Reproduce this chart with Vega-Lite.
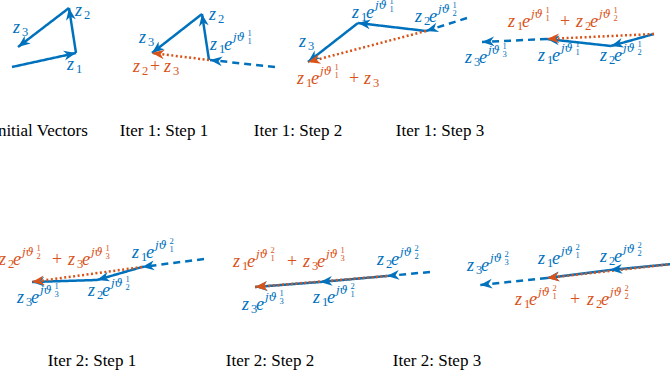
{
  "$schema": "https://vega.github.io/schema/vega-lite/v6.json",
  "autosize": {"type": "fit", "contains": "padding"},
  "width": 670,
  "height": 375,
  "padding": 0,
  "background": "white",
  "config": {"view": {"stroke": null}},
  "datasets": {
    "segs": [
      {"x": 12, "y": 67, "x2": 76, "y2": 53, "s": "solid", "k": "blue"},
      {"x": 76, "y": 53, "x2": 69, "y2": 8, "s": "solid", "k": "blue"},
      {"x": 69, "y": 8, "x2": 18, "y2": 47, "s": "solid", "k": "blue"},
      {"x": 275, "y": 67, "x2": 210, "y2": 60, "s": "dashed", "k": "blue"},
      {"x": 209, "y": 60, "x2": 202, "y2": 14, "s": "solid", "k": "blue"},
      {"x": 202, "y": 14, "x2": 152, "y2": 53, "s": "solid", "k": "blue"},
      {"x": 467, "y": 18, "x2": 426, "y2": 31, "s": "dashed", "k": "blue"},
      {"x": 426, "y": 31, "x2": 358, "y2": 23, "s": "solid", "k": "blue"},
      {"x": 358, "y": 23, "x2": 308, "y2": 62, "s": "solid", "k": "blue"},
      {"x": 654, "y": 34, "x2": 611, "y2": 46, "s": "solid", "k": "blue"},
      {"x": 611, "y": 46, "x2": 547, "y2": 39, "s": "solid", "k": "blue"},
      {"x": 547, "y": 39, "x2": 482, "y2": 42, "s": "dashed", "k": "blue"},
      {"x": 204, "y": 259, "x2": 142, "y2": 267, "s": "dashed", "k": "blue"},
      {"x": 142, "y": 267, "x2": 97, "y2": 280, "s": "solid", "k": "blue"},
      {"x": 97, "y": 280, "x2": 32, "y2": 282, "s": "solid", "k": "blue"},
      {"x": 430, "y": 272, "x2": 387, "y2": 276, "s": "dashed", "k": "blue"},
      {"x": 387, "y": 276, "x2": 320, "y2": 282, "s": "solid", "k": "blue"},
      {"x": 320, "y": 282, "x2": 255, "y2": 287, "s": "solid", "k": "blue"},
      {"x": 672, "y": 264, "x2": 610, "y2": 270, "s": "solid", "k": "blue"},
      {"x": 610, "y": 270, "x2": 547, "y2": 278, "s": "solid", "k": "blue"},
      {"x": 547, "y": 278, "x2": 480, "y2": 285, "s": "dashed", "k": "blue"},
      {"x": 209, "y": 60, "x2": 152, "y2": 53, "s": "dotted", "k": "orange"},
      {"x": 426, "y": 31, "x2": 308, "y2": 62, "s": "dotted", "k": "orange"},
      {"x": 654, "y": 34, "x2": 547, "y2": 39, "s": "dotted", "k": "orange"},
      {"x": 142, "y": 267, "x2": 32, "y2": 282, "s": "dotted", "k": "orange"},
      {"x": 387, "y": 276, "x2": 255, "y2": 287, "s": "dotted", "k": "orange"},
      {"x": 672, "y": 264, "x2": 547, "y2": 278, "s": "dotted", "k": "orange"}
    ],
    "tex": [
      {"x": 13, "y": 33, "t": "z", "r": "var", "k": "blue"},
      {"x": 22, "y": 36, "t": "3", "r": "idx", "k": "blue"},
      {"x": 75, "y": 16, "t": "z", "r": "var", "k": "blue"},
      {"x": 84, "y": 19, "t": "2", "r": "idx", "k": "blue"},
      {"x": 67, "y": 70, "t": "z", "r": "var", "k": "blue"},
      {"x": 76, "y": 73, "t": "1", "r": "idx", "k": "blue"},

      {"x": 139, "y": 43, "t": "z", "r": "var", "k": "blue"},
      {"x": 148, "y": 46, "t": "3", "r": "idx", "k": "blue"},
      {"x": 209, "y": 20, "t": "z", "r": "var", "k": "blue"},
      {"x": 218, "y": 23, "t": "2", "r": "idx", "k": "blue"},
      {"x": 210, "y": 50, "t": "z", "r": "var", "k": "blue"},
      {"x": 219, "y": 53, "t": "1", "r": "idx", "k": "blue"},
      {"x": 224, "y": 50, "t": "e", "r": "var", "k": "blue"},
      {"x": 233, "y": 41, "t": "jϑ", "r": "exp", "k": "blue"},
      {"x": 247.5, "y": 36, "t": "1", "r": "eidx", "k": "blue"},
      {"x": 247.5, "y": 44, "t": "1", "r": "eidx", "k": "blue"},
      {"x": 133, "y": 72, "t": "z", "r": "var", "k": "orange"},
      {"x": 142, "y": 75, "t": "2", "r": "idx", "k": "orange"},
      {"x": 150, "y": 72, "t": "+", "r": "op", "k": "orange"},
      {"x": 164, "y": 72, "t": "z", "r": "var", "k": "orange"},
      {"x": 173, "y": 75, "t": "3", "r": "idx", "k": "orange"},

      {"x": 352, "y": 18, "t": "z", "r": "var", "k": "blue"},
      {"x": 361, "y": 21, "t": "1", "r": "idx", "k": "blue"},
      {"x": 366, "y": 18, "t": "e", "r": "var", "k": "blue"},
      {"x": 375, "y": 9, "t": "jϑ", "r": "exp", "k": "blue"},
      {"x": 389.5, "y": 4, "t": "1", "r": "eidx", "k": "blue"},
      {"x": 389.5, "y": 12, "t": "1", "r": "eidx", "k": "blue"},
      {"x": 415, "y": 22, "t": "z", "r": "var", "k": "blue"},
      {"x": 424, "y": 25, "t": "2", "r": "idx", "k": "blue"},
      {"x": 429, "y": 22, "t": "e", "r": "var", "k": "blue"},
      {"x": 438, "y": 13, "t": "jϑ", "r": "exp", "k": "blue"},
      {"x": 452.5, "y": 8, "t": "1", "r": "eidx", "k": "blue"},
      {"x": 452.5, "y": 16, "t": "2", "r": "eidx", "k": "blue"},
      {"x": 299, "y": 47, "t": "z", "r": "var", "k": "blue"},
      {"x": 308, "y": 50, "t": "3", "r": "idx", "k": "blue"},
      {"x": 297, "y": 84, "t": "z", "r": "var", "k": "orange"},
      {"x": 306, "y": 87, "t": "1", "r": "idx", "k": "orange"},
      {"x": 311, "y": 84, "t": "e", "r": "var", "k": "orange"},
      {"x": 320, "y": 75, "t": "jϑ", "r": "exp", "k": "orange"},
      {"x": 334.5, "y": 70, "t": "1", "r": "eidx", "k": "orange"},
      {"x": 334.5, "y": 78, "t": "1", "r": "eidx", "k": "orange"},
      {"x": 349, "y": 84, "t": "+", "r": "op", "k": "orange"},
      {"x": 364, "y": 84, "t": "z", "r": "var", "k": "orange"},
      {"x": 373, "y": 87, "t": "3", "r": "idx", "k": "orange"},

      {"x": 508, "y": 27, "t": "z", "r": "var", "k": "orange"},
      {"x": 517, "y": 30, "t": "1", "r": "idx", "k": "orange"},
      {"x": 522, "y": 27, "t": "e", "r": "var", "k": "orange"},
      {"x": 531, "y": 18, "t": "jϑ", "r": "exp", "k": "orange"},
      {"x": 545.5, "y": 13, "t": "1", "r": "eidx", "k": "orange"},
      {"x": 545.5, "y": 21, "t": "1", "r": "eidx", "k": "orange"},
      {"x": 560, "y": 27, "t": "+", "r": "op", "k": "orange"},
      {"x": 576, "y": 27, "t": "z", "r": "var", "k": "orange"},
      {"x": 585, "y": 30, "t": "2", "r": "idx", "k": "orange"},
      {"x": 590, "y": 27, "t": "e", "r": "var", "k": "orange"},
      {"x": 599, "y": 18, "t": "jϑ", "r": "exp", "k": "orange"},
      {"x": 613.5, "y": 13, "t": "1", "r": "eidx", "k": "orange"},
      {"x": 613.5, "y": 21, "t": "2", "r": "eidx", "k": "orange"},
      {"x": 465, "y": 63, "t": "z", "r": "var", "k": "blue"},
      {"x": 474, "y": 66, "t": "3", "r": "idx", "k": "blue"},
      {"x": 479, "y": 63, "t": "e", "r": "var", "k": "blue"},
      {"x": 488, "y": 54, "t": "jϑ", "r": "exp", "k": "blue"},
      {"x": 502.5, "y": 49, "t": "1", "r": "eidx", "k": "blue"},
      {"x": 502.5, "y": 57, "t": "3", "r": "eidx", "k": "blue"},
      {"x": 538, "y": 61, "t": "z", "r": "var", "k": "blue"},
      {"x": 547, "y": 64, "t": "1", "r": "idx", "k": "blue"},
      {"x": 552, "y": 61, "t": "e", "r": "var", "k": "blue"},
      {"x": 561, "y": 52, "t": "jϑ", "r": "exp", "k": "blue"},
      {"x": 575.5, "y": 47, "t": "1", "r": "eidx", "k": "blue"},
      {"x": 575.5, "y": 55, "t": "1", "r": "eidx", "k": "blue"},
      {"x": 600, "y": 61, "t": "z", "r": "var", "k": "blue"},
      {"x": 609, "y": 64, "t": "2", "r": "idx", "k": "blue"},
      {"x": 614, "y": 61, "t": "e", "r": "var", "k": "blue"},
      {"x": 623, "y": 52, "t": "jϑ", "r": "exp", "k": "blue"},
      {"x": 637.5, "y": 47, "t": "1", "r": "eidx", "k": "blue"},
      {"x": 637.5, "y": 55, "t": "2", "r": "eidx", "k": "blue"},

      {"x": -1, "y": 265, "t": "z", "r": "var", "k": "orange"},
      {"x": 8, "y": 268, "t": "2", "r": "idx", "k": "orange"},
      {"x": 13, "y": 265, "t": "e", "r": "var", "k": "orange"},
      {"x": 22, "y": 256, "t": "jϑ", "r": "exp", "k": "orange"},
      {"x": 36.5, "y": 251, "t": "1", "r": "eidx", "k": "orange"},
      {"x": 36.5, "y": 259, "t": "2", "r": "eidx", "k": "orange"},
      {"x": 52, "y": 265, "t": "+", "r": "op", "k": "orange"},
      {"x": 68, "y": 265, "t": "z", "r": "var", "k": "orange"},
      {"x": 77, "y": 268, "t": "3", "r": "idx", "k": "orange"},
      {"x": 82, "y": 265, "t": "e", "r": "var", "k": "orange"},
      {"x": 91, "y": 256, "t": "jϑ", "r": "exp", "k": "orange"},
      {"x": 105.5, "y": 251, "t": "1", "r": "eidx", "k": "orange"},
      {"x": 105.5, "y": 259, "t": "3", "r": "eidx", "k": "orange"},
      {"x": 132, "y": 258, "t": "z", "r": "var", "k": "blue"},
      {"x": 141, "y": 261, "t": "1", "r": "idx", "k": "blue"},
      {"x": 146, "y": 258, "t": "e", "r": "var", "k": "blue"},
      {"x": 155, "y": 249, "t": "jϑ", "r": "exp", "k": "blue"},
      {"x": 169.5, "y": 244, "t": "2", "r": "eidx", "k": "blue"},
      {"x": 169.5, "y": 252, "t": "1", "r": "eidx", "k": "blue"},
      {"x": 88, "y": 296, "t": "z", "r": "var", "k": "blue"},
      {"x": 97, "y": 299, "t": "2", "r": "idx", "k": "blue"},
      {"x": 102, "y": 296, "t": "e", "r": "var", "k": "blue"},
      {"x": 111, "y": 287, "t": "jϑ", "r": "exp", "k": "blue"},
      {"x": 125.5, "y": 282, "t": "1", "r": "eidx", "k": "blue"},
      {"x": 125.5, "y": 290, "t": "2", "r": "eidx", "k": "blue"},
      {"x": 17, "y": 303, "t": "z", "r": "var", "k": "blue"},
      {"x": 26, "y": 306, "t": "3", "r": "idx", "k": "blue"},
      {"x": 31, "y": 303, "t": "e", "r": "var", "k": "blue"},
      {"x": 40, "y": 294, "t": "jϑ", "r": "exp", "k": "blue"},
      {"x": 54.5, "y": 289, "t": "1", "r": "eidx", "k": "blue"},
      {"x": 54.5, "y": 297, "t": "3", "r": "eidx", "k": "blue"},

      {"x": 233, "y": 267, "t": "z", "r": "var", "k": "orange"},
      {"x": 242, "y": 270, "t": "1", "r": "idx", "k": "orange"},
      {"x": 247, "y": 267, "t": "e", "r": "var", "k": "orange"},
      {"x": 256, "y": 258, "t": "jϑ", "r": "exp", "k": "orange"},
      {"x": 270.5, "y": 253, "t": "2", "r": "eidx", "k": "orange"},
      {"x": 270.5, "y": 261, "t": "1", "r": "eidx", "k": "orange"},
      {"x": 287, "y": 267, "t": "+", "r": "op", "k": "orange"},
      {"x": 303, "y": 267, "t": "z", "r": "var", "k": "orange"},
      {"x": 312, "y": 270, "t": "3", "r": "idx", "k": "orange"},
      {"x": 317, "y": 267, "t": "e", "r": "var", "k": "orange"},
      {"x": 326, "y": 258, "t": "jϑ", "r": "exp", "k": "orange"},
      {"x": 340.5, "y": 253, "t": "1", "r": "eidx", "k": "orange"},
      {"x": 340.5, "y": 261, "t": "3", "r": "eidx", "k": "orange"},
      {"x": 377, "y": 265, "t": "z", "r": "var", "k": "blue"},
      {"x": 386, "y": 268, "t": "2", "r": "idx", "k": "blue"},
      {"x": 391, "y": 265, "t": "e", "r": "var", "k": "blue"},
      {"x": 400, "y": 256, "t": "jϑ", "r": "exp", "k": "blue"},
      {"x": 414.5, "y": 251, "t": "2", "r": "eidx", "k": "blue"},
      {"x": 414.5, "y": 259, "t": "2", "r": "eidx", "k": "blue"},
      {"x": 313, "y": 303, "t": "z", "r": "var", "k": "blue"},
      {"x": 322, "y": 306, "t": "1", "r": "idx", "k": "blue"},
      {"x": 327, "y": 303, "t": "e", "r": "var", "k": "blue"},
      {"x": 336, "y": 294, "t": "jϑ", "r": "exp", "k": "blue"},
      {"x": 350.5, "y": 289, "t": "2", "r": "eidx", "k": "blue"},
      {"x": 350.5, "y": 297, "t": "1", "r": "eidx", "k": "blue"},
      {"x": 242, "y": 310, "t": "z", "r": "var", "k": "blue"},
      {"x": 251, "y": 313, "t": "3", "r": "idx", "k": "blue"},
      {"x": 256, "y": 310, "t": "e", "r": "var", "k": "blue"},
      {"x": 265, "y": 301, "t": "jϑ", "r": "exp", "k": "blue"},
      {"x": 279.5, "y": 296, "t": "1", "r": "eidx", "k": "blue"},
      {"x": 279.5, "y": 304, "t": "3", "r": "eidx", "k": "blue"},

      {"x": 467, "y": 271, "t": "z", "r": "var", "k": "blue"},
      {"x": 476, "y": 274, "t": "3", "r": "idx", "k": "blue"},
      {"x": 481, "y": 271, "t": "e", "r": "var", "k": "blue"},
      {"x": 490, "y": 262, "t": "jϑ", "r": "exp", "k": "blue"},
      {"x": 504.5, "y": 257, "t": "2", "r": "eidx", "k": "blue"},
      {"x": 504.5, "y": 265, "t": "3", "r": "eidx", "k": "blue"},
      {"x": 538, "y": 264, "t": "z", "r": "var", "k": "blue"},
      {"x": 547, "y": 267, "t": "1", "r": "idx", "k": "blue"},
      {"x": 552, "y": 264, "t": "e", "r": "var", "k": "blue"},
      {"x": 561, "y": 255, "t": "jϑ", "r": "exp", "k": "blue"},
      {"x": 575.5, "y": 250, "t": "2", "r": "eidx", "k": "blue"},
      {"x": 575.5, "y": 258, "t": "1", "r": "eidx", "k": "blue"},
      {"x": 600, "y": 262, "t": "z", "r": "var", "k": "blue"},
      {"x": 609, "y": 265, "t": "2", "r": "idx", "k": "blue"},
      {"x": 614, "y": 262, "t": "e", "r": "var", "k": "blue"},
      {"x": 623, "y": 253, "t": "jϑ", "r": "exp", "k": "blue"},
      {"x": 637.5, "y": 248, "t": "2", "r": "eidx", "k": "blue"},
      {"x": 637.5, "y": 256, "t": "2", "r": "eidx", "k": "blue"},
      {"x": 515, "y": 305, "t": "z", "r": "var", "k": "orange"},
      {"x": 524, "y": 308, "t": "1", "r": "idx", "k": "orange"},
      {"x": 529, "y": 305, "t": "e", "r": "var", "k": "orange"},
      {"x": 538, "y": 296, "t": "jϑ", "r": "exp", "k": "orange"},
      {"x": 552.5, "y": 291, "t": "2", "r": "eidx", "k": "orange"},
      {"x": 552.5, "y": 299, "t": "1", "r": "eidx", "k": "orange"},
      {"x": 570, "y": 305, "t": "+", "r": "op", "k": "orange"},
      {"x": 587, "y": 305, "t": "z", "r": "var", "k": "orange"},
      {"x": 596, "y": 308, "t": "2", "r": "idx", "k": "orange"},
      {"x": 601, "y": 305, "t": "e", "r": "var", "k": "orange"},
      {"x": 610, "y": 296, "t": "jϑ", "r": "exp", "k": "orange"},
      {"x": 624.5, "y": 291, "t": "2", "r": "eidx", "k": "orange"},
      {"x": 624.5, "y": 299, "t": "2", "r": "eidx", "k": "orange"},

      {"x": 40, "y": 136, "t": "Initial Vectors", "r": "title", "k": "black"},
      {"x": 164, "y": 136, "t": "Iter 1: Step 1", "r": "title", "k": "black"},
      {"x": 298, "y": 136, "t": "Iter 1: Step 2", "r": "title", "k": "black"},
      {"x": 440, "y": 136, "t": "Iter 1: Step 3", "r": "title", "k": "black"},
      {"x": 92, "y": 366, "t": "Iter 2: Step 1", "r": "title", "k": "black"},
      {"x": 270, "y": 366, "t": "Iter 2: Step 2", "r": "title", "k": "black"},
      {"x": 437, "y": 366, "t": "Iter 2: Step 3", "r": "title", "k": "black"}
    ]
  },
  "layer": [
    {
      "data": {"name": "segs"},
      "mark": {"type": "rule", "strokeWidth": 2.5, "strokeCap": "butt", "clip": true},
      "encoding": {
        "x": {"field": "x", "type": "quantitative", "scale": {"domain": [0, 670], "nice": false, "zero": false}, "axis": null},
        "y": {"field": "y", "type": "quantitative", "scale": {"domain": [0, 375], "nice": false, "zero": false, "reverse": true}, "axis": null},
        "x2": {"field": "x2"},
        "y2": {"field": "y2"},
        "color": {"field": "k", "type": "nominal", "scale": {"domain": ["blue", "orange", "black"], "range": ["#0072BD", "#D95319", "#000000"]}, "legend": null},
        "strokeDash": {"field": "s", "type": "nominal", "scale": {"domain": ["solid", "dashed", "dotted"], "range": [[1, 0], [7, 5], [2, 2.5]]}, "legend": null}
      }
    },
    {
      "data": {"name": "segs"},
      "transform": [
        {"calculate": "atan2(datum.y2 - datum.y, datum.x2 - datum.x) * 180 / PI + 360", "as": "ang"}
      ],
      "mark": {"type": "point", "shape": "M0,0L-2,-0.8L-1.4,0L-2,0.8Z", "filled": true, "opacity": 1, "size": 150, "clip": true},
      "encoding": {
        "x": {"field": "x2", "type": "quantitative"},
        "y": {"field": "y2", "type": "quantitative"},
        "angle": {"field": "ang", "type": "quantitative", "scale": null},
        "color": {"field": "k", "type": "nominal", "legend": null}
      }
    },
    {
      "data": {"name": "tex"},
      "transform": [{"filter": "datum.r === 'var'"}],
      "mark": {"type": "text", "align": "left", "baseline": "alphabetic", "font": "Liberation Serif", "fontStyle": "italic", "fontSize": 18, "clip": true},
      "encoding": {
        "x": {"field": "x", "type": "quantitative"},
        "y": {"field": "y", "type": "quantitative"},
        "text": {"field": "t"},
        "color": {"field": "k", "type": "nominal", "legend": null}
      }
    },
    {
      "data": {"name": "tex"},
      "transform": [{"filter": "datum.r === 'exp'"}],
      "mark": {"type": "text", "align": "left", "baseline": "alphabetic", "font": "DejaVu Serif", "fontStyle": "italic", "fontSize": 11.5, "clip": true},
      "encoding": {
        "x": {"field": "x", "type": "quantitative"},
        "y": {"field": "y", "type": "quantitative"},
        "text": {"field": "t"},
        "color": {"field": "k", "type": "nominal", "legend": null}
      }
    },
    {
      "data": {"name": "tex"},
      "transform": [{"filter": "datum.r === 'idx'"}],
      "mark": {"type": "text", "align": "left", "baseline": "alphabetic", "font": "Liberation Serif", "fontSize": 12.5, "clip": true},
      "encoding": {
        "x": {"field": "x", "type": "quantitative"},
        "y": {"field": "y", "type": "quantitative"},
        "text": {"field": "t"},
        "color": {"field": "k", "type": "nominal", "legend": null}
      }
    },
    {
      "data": {"name": "tex"},
      "transform": [{"filter": "datum.r === 'eidx'"}],
      "mark": {"type": "text", "align": "left", "baseline": "alphabetic", "font": "Liberation Serif", "fontSize": 8.5, "clip": true},
      "encoding": {
        "x": {"field": "x", "type": "quantitative"},
        "y": {"field": "y", "type": "quantitative"},
        "text": {"field": "t"},
        "color": {"field": "k", "type": "nominal", "legend": null}
      }
    },
    {
      "data": {"name": "tex"},
      "transform": [{"filter": "datum.r === 'op'"}],
      "mark": {"type": "text", "align": "left", "baseline": "alphabetic", "font": "Liberation Serif", "fontSize": 18, "clip": true},
      "encoding": {
        "x": {"field": "x", "type": "quantitative"},
        "y": {"field": "y", "type": "quantitative"},
        "text": {"field": "t"},
        "color": {"field": "k", "type": "nominal", "legend": null}
      }
    },
    {
      "data": {"name": "tex"},
      "transform": [{"filter": "datum.r === 'title'"}],
      "mark": {"type": "text", "align": "center", "baseline": "alphabetic", "font": "Liberation Serif", "fontSize": 17, "clip": true},
      "encoding": {
        "x": {"field": "x", "type": "quantitative"},
        "y": {"field": "y", "type": "quantitative"},
        "text": {"field": "t"},
        "color": {"field": "k", "type": "nominal", "legend": null}
      }
    }
  ]
}
